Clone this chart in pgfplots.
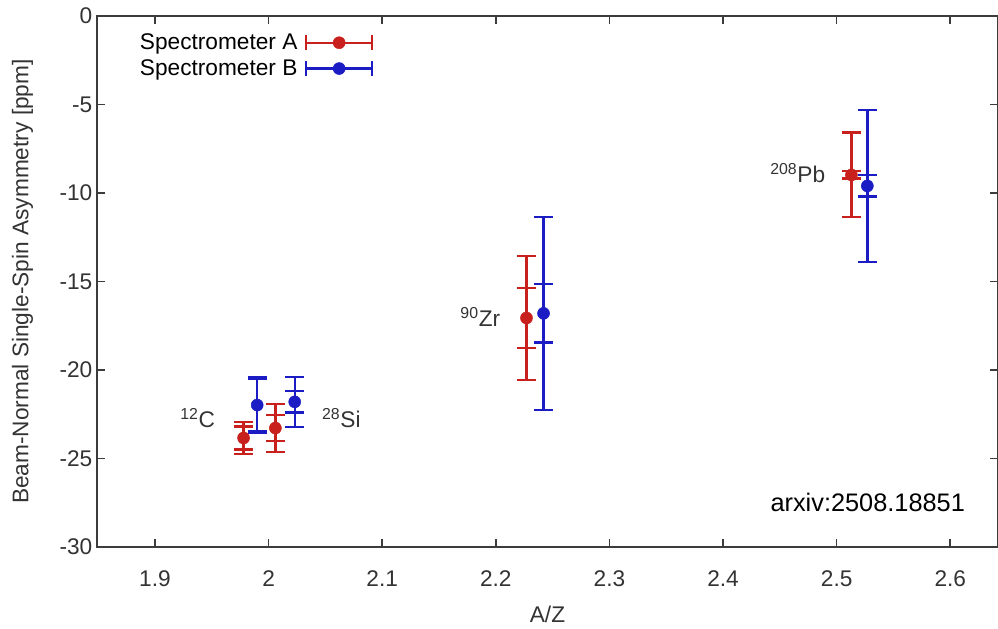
\documentclass[border=0pt]{standalone}
\usepackage{pgfplots}
\pgfplotsset{compat=1.18}
\usepackage{fontspec}
\setmainfont{Liberation Sans}
\usetikzlibrary{arrows.meta}
\definecolor{specA}{RGB}{200,32,28}
\definecolor{specB}{RGB}{28,28,196}
\definecolor{axgray}{RGB}{60,60,60}

\pgfplotstableread{
x      y       tot   stat
1.978  -23.84  0.90  0.65
2.006  -23.28  1.35  0.75
2.227  -17.06  3.50  1.70
2.513  -8.98   2.40  0.20
}\dataA
\pgfplotstableread{
x      y       tot   stat
1.990  -21.98  1.60  1.45
2.023  -21.80  1.40  0.60
2.242  -16.80  5.45  1.65
2.527  -9.60   4.30  0.60
}\dataB

\pgfplotsset{
 ebar/.style={only marks, mark=none, forget plot,
   error bars/.cd, y dir=both, y explicit,
   error bar style={line width=1.8pt, #1},
   error mark=|,
   error mark options={line width=1.6pt, mark size=7pt, #1}},
 legimg/.style={legend image code/.code={
   \draw[#1, line width=1.6pt, {Bar[width=11pt]}-{Bar[width=11pt]}] (0pt,0pt) -- (51pt,0pt);
   \fill[#1] (25.5pt,0pt) circle (4.5pt);}}
}

\begin{document}
\begin{tikzpicture}
\begin{axis}[
 name=ax,
 scale only axis, width=675.75pt, height=398.25pt,
 xmin=1.849, xmax=2.642, ymin=-30, ymax=0,
 xtick={1.9,2,2.1,2.2,2.3,2.4,2.5,2.6},
 ytick={-30,-25,-20,-15,-10,-5,0},
 tick align=inside,
 major tick length=6pt,
 axis line style={axgray, line width=1.5pt},
 every tick/.style={axgray, line width=1.2pt},
 /pgf/number format/assume math mode=true,
 /pgf/number format/fixed,
 tick label style={font=\fontsize{17}{20}\selectfont, text=black!80},
 label style={font=\fontsize{17}{20}\selectfont, text=black!80},
 xlabel={A/Z},
 ylabel={Beam-Normal Single-Spin Asymmetry [ppm]},
 xticklabel style={yshift=-14pt},
 xlabel style={yshift=-8pt},
 ylabel style={yshift=13pt},
 legend style={draw=none, fill=none, at={(0.04,0.972)}, anchor=north west,
   font=\fontsize{17}{20}\selectfont, legend cell align=right, row sep=2pt,
   inner sep=0pt, nodes={inner xsep=5pt}},
 legend plot pos=right,
 clip=false,
]
% Spectrometer A
\addplot[ebar=specA] table[x=x, y=y, y error=tot] {\dataA};
\addplot[ebar=specA] table[x=x, y=y, y error=stat] {\dataA};
\addplot[specA, only marks, mark=*, mark size=4.5pt, legimg=specA] table[x=x, y=y] {\dataA};
\addlegendentry{Spectrometer A}
% Spectrometer B
\addplot[ebar=specB] table[x=x, y=y, y error=tot] {\dataB};
\addplot[ebar=specB] table[x=x, y=y, y error=stat] {\dataB};
\addplot[specB, only marks, mark=*, mark size=4.5pt, legimg=specB] table[x=x, y=y] {\dataB};
\addlegendentry{Spectrometer B}

\node[anchor=base east, font=\fontsize{17}{20}\selectfont, text=black!80] at (axis cs:1.957,-23.25) {\textsuperscript{12}C};
\node[anchor=base west, font=\fontsize{17}{20}\selectfont, text=black!80] at (axis cs:2.043,-23.25) {\textsuperscript{28}Si};
\node[anchor=base east, font=\fontsize{17}{20}\selectfont, text=black!80] at (axis cs:2.208,-17.55) {\textsuperscript{90}Zr};
\node[anchor=base east, font=\fontsize{17}{20}\selectfont, text=black!80] at (axis cs:2.494,-9.43) {\textsuperscript{208}Pb};
\node[anchor=base east, font=\fontsize{19}{23}\selectfont] at (axis cs:2.617,-28.0) {arxiv:2508.18851};
\end{axis}
\pgfresetboundingbox
\path[use as bounding box] ([xshift=-72.75pt,yshift=-60.75pt]ax.south west) rectangle ([yshift=12pt]ax.north east);
\end{tikzpicture}
\end{document}
